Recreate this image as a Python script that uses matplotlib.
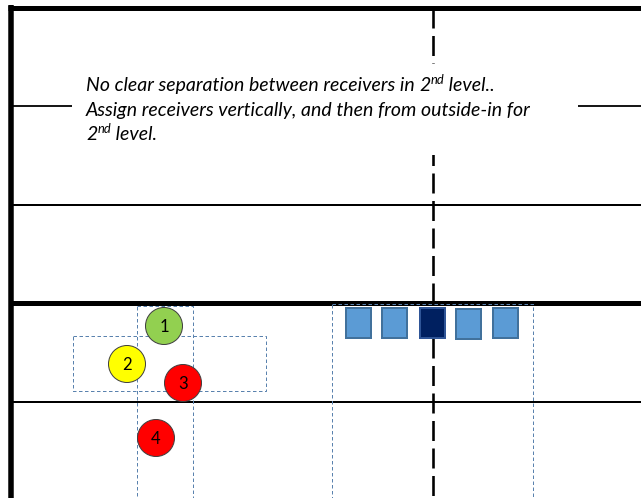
import matplotlib
matplotlib.use("Agg")
import matplotlib.pyplot as plt
from matplotlib.patches import Circle, Rectangle

plt.rcParams['lines.scale_dashes'] = False

# canvas is set up in pixel units: x 0..641, y 0..498 (top down)
W, H = 641, 498
PX = 0.72  # points per pixel at dpi 100

# field lines (y in px) and text
yard_lines = [205, 402]
los_y = 303
center_x = 433
note_lines = [
    [("No clear separation between receivers in ", 0), ("2", 0), ("nd", 1), (" level..", 0)],
    [("Assign receivers vertically, and then from outside-in for", 0)],
    [("2", 0), ("nd", 1), (" level.", 0)],
]

# receivers (circles)
rec_labels = ['1', '2', '3', '4']
rec_x = [164, 127, 183, 156]
rec_y = [326, 364, 383, 438]
rec_colors = ['#92D050', '#FFFF00', '#FF0000', '#FF0000']

# offensive line (squares)
ol_x = [358, 394, 432, 468, 505]
ol_y = [323, 323, 323, 324, 323]
ol_colors = ['#5B9BD5', '#5B9BD5', '#002060', '#5B9BD5', '#5B9BD5']

# dashed zone boxes: (x0, y0, x1, y1)
zones = [(137, 306, 193, 498), (73, 336, 266, 391), (332, 304, 533, 498)]

fig = plt.figure(figsize=(W / 100, H / 100), dpi=100)
ax = fig.add_axes([0, 0, 1, 1])
ax.set_xlim(0, W)
ax.set_ylim(H, 0)
ax.axis('off')

# outer border
ax.plot([8, W], [7.5, 7.5], color='black', lw=5 * PX, solid_capstyle='butt', zorder=3)
ax.plot([11, 11], [5, H], color='black', lw=5.5 * PX, solid_capstyle='butt', zorder=3)

# upper thin line (interrupted by the note)
ax.plot([11, W], [106, 106], color='black', lw=1.8 * PX, zorder=2)
for y in yard_lines:
    ax.plot([11, W], [y, y], color='black', lw=2 * PX, zorder=2)
ax.plot([11, W], [los_y, los_y], color='black', lw=5 * PX, solid_capstyle='butt', zorder=3)

# center dashed line
ax.plot([center_x, center_x], [8, H], color='black', lw=2.6 * PX,
        linestyle=(0, (20 * PX, 7.5 * PX)), zorder=2)

# white box behind the note
ax.add_patch(Rectangle((72, 64), 506, 91, facecolor='white', edgecolor='none', zorder=4))

# note text
fig.canvas.draw()
rend = fig.canvas.get_renderer()
inv = ax.transData.inverted()
fam = ['Lato', 'DejaVu Sans']
for i, runs in enumerate(note_lines):
    x = 86
    y = 91 + i * 24.5
    for s, sup in runs:
        if sup:
            t = ax.text(x, y - 7.5, s, fontsize=9.3, style='italic', family=fam,
                        va='baseline', ha='left', zorder=5)
        else:
            t = ax.text(x, y, s, fontsize=14, style='italic', family=fam,
                        va='baseline', ha='left', zorder=5)
        bb = t.get_window_extent(rend)
        x = inv.transform((bb.x1, bb.y0))[0]

# zone boxes
for x0, y0, x1, y1 in zones:
    ax.add_patch(Rectangle((x0, y0), x1 - x0, y1 - y0, facecolor='none',
                           edgecolor='#5A82AE', lw=1 * PX,
                           linestyle=(0, (3.5 * PX, 2.5 * PX)), zorder=6))

# receivers
for lab, x, y, c in zip(rec_labels, rec_x, rec_y, rec_colors):
    ax.add_patch(Circle((x, y), 18.5, facecolor=c, edgecolor='#404040', lw=1 * PX, zorder=7))
    ax.text(x, y + 0.5, lab, fontsize=12, family=['Lato', 'DejaVu Sans'],
            ha='center', va='center', zorder=8)

# offensive line
for x, y, c in zip(ol_x, ol_y, ol_colors):
    ec = '#41719C' if c != '#002060' else '#2F5597'
    ax.add_patch(Rectangle((x - 12.5, y - 15), 25, 30, facecolor=c, edgecolor=ec,
                           lw=2 * PX, zorder=7))

fig.savefig('out.png', dpi=100)
